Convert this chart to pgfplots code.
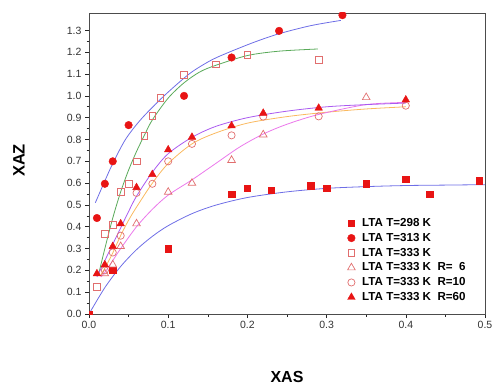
\documentclass[border=0pt]{standalone}
\usepackage{fontspec}
\setmainfont{Liberation Sans}
\usepackage{pgfplots}
\pgfplotsset{compat=1.18}
\definecolor{cblue}{RGB}{110,110,230}
\definecolor{cgreen}{RGB}{90,170,90}
\definecolor{corange}{RGB}{250,185,95}
\definecolor{cpurple}{RGB}{170,90,240}
\definecolor{cmag}{RGB}{235,120,235}
\definecolor{cred}{RGB}{232,20,20}
\definecolor{csal}{RGB}{225,110,110}
\begin{document}
\begin{tikzpicture}
\begin{axis}[
  scale only axis,
  width=396pt, height=301pt,
  at={(0,0)}, anchor=south west,
  xmin=0, xmax=0.5, ymin=0, ymax=1.38,
  xtick={0,0.1,0.2,0.3,0.4,0.5},
  ytick={0,0.1,0.2,0.3,0.4,0.5,0.6,0.7,0.8,0.9,1.0,1.1,1.2,1.3},
  minor x tick num=1, minor y tick num=1,
  tick align=outside,
  xtick pos=bottom, ytick pos=left,
  major tick length=4pt, minor tick length=2.5pt,
  every tick/.style={black!85, line width=0.6pt},
  axis line style={black!70, line width=0.8pt},
  /pgf/number format/assume math mode=true,
  xticklabel style={/pgf/number format/.cd, fixed, fixed zerofill, precision=1},
  yticklabel style={/pgf/number format/.cd, fixed, fixed zerofill, precision=1},
  tick label style={font=\fontsize{10.5}{12}\selectfont, text=black!80},
  xlabel={\bfseries XAS},
  ylabel={\bfseries XAZ},
  xlabel style={font=\fontsize{16}{18}\selectfont, at={(axis description cs:0.5,-0.209)}, anchor=center},
  ylabel style={font=\fontsize{16.5}{18}\selectfont, at={(axis description cs:-0.177,0.51)}, anchor=center, rotate=0},
  clip marker paths=true,
  legend style={draw=none, fill=none, at={(axis description cs:0.65,0.328)}, anchor=north west,
    font=\bfseries\fontsize{11.6}{13}\selectfont, row sep=1.2pt, inner sep=1pt,
    nodes={inner xsep=7pt}},
  legend cell align=left,
]
% fitted curves
\addplot[cblue, line width=0.8pt, smooth, forget plot] coordinates {
(0,0) (0.02,0.121) (0.04,0.218) (0.06,0.295) (0.08,0.356) (0.10,0.405) (0.13,0.460)
(0.16,0.499) (0.20,0.534) (0.25,0.560) (0.30,0.576) (0.35,0.584) (0.40,0.589) (0.45,0.591) (0.50,0.593)};
\addplot[cblue, line width=0.8pt, smooth, forget plot] coordinates {
(0.008,0.51) (0.02,0.61) (0.03,0.69) (0.046,0.80) (0.065,0.89) (0.089,0.98) (0.11,1.05)
(0.13,1.11) (0.155,1.165) (0.18,1.205) (0.21,1.248) (0.24,1.285) (0.28,1.322) (0.318,1.346)};
\addplot[cgreen, line width=0.8pt, smooth, forget plot] coordinates {
(0.012,0.18) (0.02,0.30) (0.03,0.44) (0.04,0.56) (0.05,0.66) (0.06,0.745) (0.07,0.82)
(0.08,0.89) (0.10,0.99) (0.12,1.06) (0.14,1.11) (0.16,1.14) (0.20,1.185) (0.24,1.205) (0.289,1.215)};
\addplot[corange, line width=0.8pt, smooth, forget plot] coordinates {
(0.015,0.18) (0.02,0.21) (0.03,0.28) (0.04,0.36) (0.05,0.43) (0.06,0.49) (0.08,0.60)
(0.10,0.69) (0.13,0.78) (0.16,0.83) (0.20,0.875) (0.25,0.905) (0.30,0.925) (0.35,0.94) (0.40,0.95)};
\addplot[cmag, line width=0.8pt, smooth, forget plot] coordinates {
(0.015,0.17) (0.02,0.19) (0.03,0.245) (0.04,0.30) (0.06,0.40) (0.08,0.48) (0.10,0.545)
(0.13,0.615) (0.16,0.69) (0.19,0.765) (0.22,0.825) (0.25,0.87) (0.29,0.915) (0.35,0.96) (0.40,0.97)};
\addplot[cpurple, line width=0.8pt, smooth, forget plot] coordinates {
(0.01,0.17) (0.02,0.245) (0.03,0.32) (0.04,0.395) (0.05,0.47) (0.06,0.54) (0.08,0.65)
(0.10,0.735) (0.13,0.81) (0.16,0.86) (0.20,0.90) (0.25,0.93) (0.30,0.95) (0.35,0.96) (0.40,0.967)};
% data
\addplot[only marks, mark=square*, mark size=3.2pt, cred, mark options={fill=cred, draw=cred}] coordinates {
(0,0) (0.03,0.20) (0.10,0.30) (0.18,0.55) (0.20,0.577) (0.23,0.568) (0.28,0.588) (0.30,0.577)
(0.35,0.597) (0.40,0.619) (0.43,0.55) (0.493,0.611)};
\addlegendentry{LTA T=298 K}
\addplot[only marks, mark=*, mark size=3.8pt, cred, mark options={fill=cred, draw=cred}] coordinates {
(0.01,0.44) (0.02,0.597) (0.03,0.70) (0.05,0.866) (0.12,1.0) (0.18,1.176) (0.24,1.298) (0.32,1.37)};
\addlegendentry{LTA T=313 K}
\addplot[only marks, mark=square, mark size=3.4pt, csal, mark options={draw=csal, line width=0.7pt}] coordinates {
(0.01,0.125) (0.02,0.368) (0.03,0.41) (0.04,0.559) (0.05,0.597) (0.06,0.70) (0.07,0.818)
(0.08,0.907) (0.09,0.99) (0.12,1.098) (0.16,1.145) (0.20,1.188) (0.29,1.165)};
\addlegendentry{LTA T=333 K}
\addplot[only marks, mark=triangle, mark size=4.4pt, csal, mark options={draw=csal, line width=0.7pt}] coordinates {
(0.02,0.185) (0.03,0.226) (0.04,0.31) (0.06,0.414) (0.10,0.559) (0.13,0.60) (0.18,0.705)
(0.22,0.822) (0.35,0.993)};
\addlegendentry{LTA T=333 K\ \ R=\hphantom{1}6}
\addplot[only marks, mark=o, mark size=3.6pt, csal, mark options={draw=csal, line width=0.7pt}] coordinates {
(0.02,0.20) (0.03,0.282) (0.04,0.359) (0.06,0.555) (0.08,0.597) (0.10,0.70) (0.13,0.78)
(0.18,0.819) (0.22,0.905) (0.29,0.906) (0.40,0.955)};
\addlegendentry{LTA T=333 K\ \ R=10}
\addplot[only marks, mark=triangle*, mark size=4.4pt, cred, mark options={fill=cred, draw=cred}] coordinates {
(0.01,0.185) (0.02,0.226) (0.03,0.31) (0.04,0.414) (0.06,0.58) (0.08,0.64) (0.10,0.753)
(0.13,0.811) (0.18,0.863) (0.22,0.921) (0.29,0.944) (0.40,0.982)};
\addlegendentry{LTA T=333 K\ \ R=60}
\end{axis}
\pgfresetboundingbox
\path (-89pt,-71pt) rectangle (405pt,314pt);
\end{tikzpicture}
\end{document}
